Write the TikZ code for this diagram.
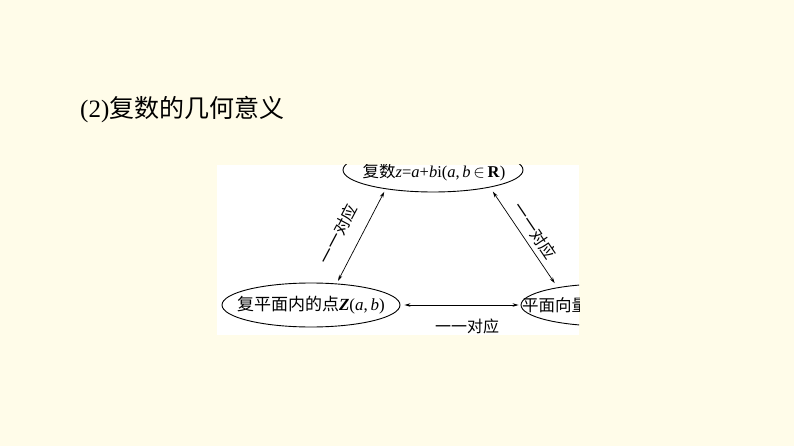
\documentclass[tikz,border=0pt]{standalone}
\usepackage{fontspec}
\setmainfont{Liberation Serif}
\newfontfamily\cjk{Noto Sans CJK SC}
\usetikzlibrary{shapes.geometric,arrows.meta}
\definecolor{bgcream}{HTML}{FFFCE9}
\begin{document}
\begin{tikzpicture}[x=1pt,y=-1pt,
  oval/.style={draw, ellipse, line width=0.9pt, inner sep=0pt},
  link/.style={line width=0.7pt, {Stealth[length=6pt,width=3.5pt]}-{Stealth[length=6pt,width=3.5pt]}},
  lbl/.style={font=\fontsize{16}{16}\selectfont\cjk, inner sep=0pt},
  txt/.style={font=\fontsize{16.5}{16.5}\selectfont, inner sep=0pt}]
\fill[bgcream] (0,0) rectangle (794,446);
\useasboundingbox (0,0) rectangle (794,446);
\node[anchor=west, font=\fontsize{25}{25}\selectfont, inner sep=0pt] (title) at (80,110) {(2){\cjk 复数的几何意义}};
\fill[white] (217,165) rectangle (579,335);
\begin{scope}
\clip (217,165) rectangle (579,335);
\node[oval, minimum width=180pt, minimum height=44pt] (top) at (433,170) {};
\node[txt] (toptext) at (434,172) {{\cjk 复数}\textit{z}=\textit{a}+\textit{b}i(\textit{a},\,\textit{b}\,$\in$\,\textbf{R})};
\node[oval, minimum width=178pt, minimum height=44pt] (left) at (311,305) {};
\node[txt, font=\fontsize{17}{17}\selectfont] (lefttext) at (311,305) {{\cjk 复平面内的点}\textbf{\textit{Z}}(\textit{a},\,\textit{b})};
\node[oval, minimum width=170pt, minimum height=42pt] (right) at (606,305) {};
\node[txt, anchor=west] (righttext) at (522,305) {\cjk 平面向量};
\draw[link, shorten <=3pt, shorten >=3pt] (left.40) -- (top.202);
\draw[link, shorten <=5pt, shorten >=5pt] (top.-17) -- (right.160);
\draw[link, shorten <=4pt, shorten >=2pt] (left.east) -- (right.west);
\node[lbl, rotate=62] (l1) at (338,234) {一一对应};
\node[lbl, rotate=-56] (l2) at (535,231) {一一对应};
\node[lbl] (l3) at (467,326) {一一对应};
\end{scope}
\end{tikzpicture}
\end{document}
